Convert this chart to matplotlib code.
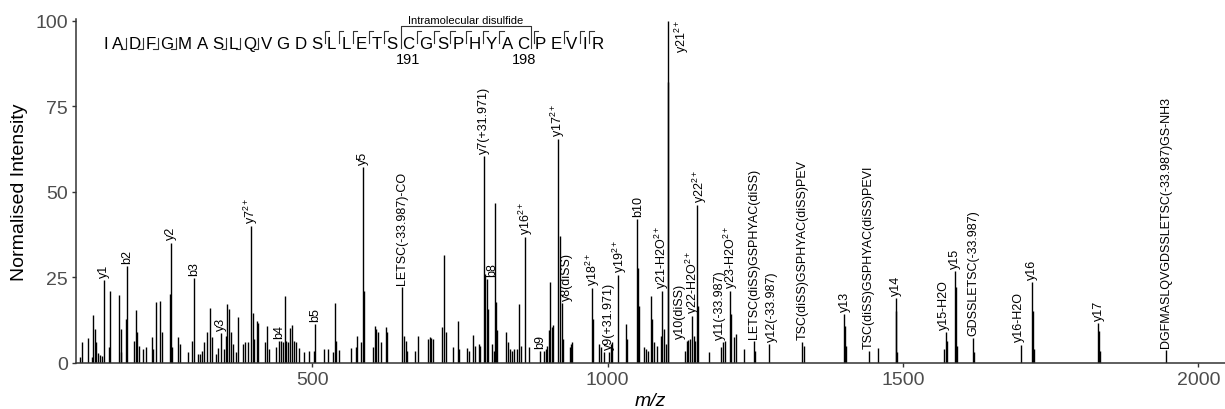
import matplotlib
matplotlib.use('Agg')
import matplotlib.pyplot as plt
from matplotlib import font_manager
from matplotlib.ft2font import FT2Font
from matplotlib.lines import Line2D

plt.rcParams['font.family'] = ['Liberation Sans', 'DejaVu Sans']
plt.rcParams['mathtext.fontset'] = 'custom'
plt.rcParams['mathtext.rm'] = 'Liberation Sans'
plt.rcParams['mathtext.it'] = 'Liberation Sans:italic'

# unannotated peaks (m/z, normalised intensity)
peak_mz = [107.6, 111, 121, 126.8, 129.6, 131.8, 134.7, 138, 140.3, 143.7, 156, 158.3,
           173.5, 175.8, 177, 184.3, 199, 201.7, 204, 206.8, 213.6, 219.2, 228.2, 231,
           235, 242.9, 245.1, 259.2, 263.2, 272.2, 276.7, 289.1, 297, 306, 310.5, 314,
           317.3, 321.2, 326.3, 329.7, 336.5, 341, 350.5, 354, 356.2, 359, 362.4, 365.2,
           371.4, 373.7, 383.2, 386.6, 391.1, 399, 401.9, 405.8, 408, 419.9, 423.3, 426.6,
           439, 446.4, 450.4, 453.2, 454.9, 458.8, 462.7, 466.1, 468.4, 471.8, 476.8, 486.4,
           494.3, 502.2, 519.7, 527, 534.9, 538.3, 540.5, 545.6, 565.9, 573.2, 575.5, 581.7,
           586.8, 602.5, 605.4, 608.2, 611, 616.6, 624, 626.2, 655, 659, 660.6, 674.1,
           678.6, 695.6, 698.4, 701.2, 704, 719.2, 722.1, 726.6, 737.8, 746.3, 748, 762.1,
           765, 772.3, 775.6, 781.8, 784.7, 793.1, 798.2, 805, 807.2, 809.5, 811.2, 812.8,
           828.1, 830.9, 835.4, 838.2, 841, 846.7, 850.6, 852.9, 867.5, 892.9, 895.1, 897.4,
           900.8, 903, 905.9, 908.1, 918.5, 925, 935.7, 938, 940.2, 974.6, 985.9, 988.7,
           994.4, 1005.6, 1007.9, 1031.6, 1033.2, 1051.3, 1053.6, 1062, 1064.8, 1068.8, 1073.3, 1075,
           1078.9, 1083.4, 1090.2, 1095.9, 1098.7, 1101.5, 1131.4, 1136.4, 1139.3, 1145.5, 1148.3, 1153.4,
           1170.8, 1192.3, 1198.4, 1208.6, 1214.2, 1217.1, 1230, 1248.6, 1332, 1402, 1404.2, 1458.3,
           1488.7, 1490.4, 1569.3, 1573.8, 1589.6, 1591.9, 1620.1, 1719.3, 1721, 1831.4, 1834.2]
peak_int = [1.7, 6.0, 7.2, 1.7, 14.0, 9.9, 6.0, 2.9, 2.3, 2.1, 4.6, 21.1,
            19.8, 9.9, 3.1, 13.0, 6.5, 15.4, 9.1, 5.1, 4.1, 4.6, 7.5, 4.1,
            17.9, 18.2, 9.0, 20.1, 4.6, 7.5, 5.5, 3.3, 6.5, 2.6, 2.6, 3.6,
            6.0, 9.0, 16.2, 7.5, 2.6, 4.4, 4.1, 8.0, 17.2, 15.8, 9.0, 5.5,
            3.1, 13.3, 5.5, 6.0, 6.0, 14.6, 7.0, 12.4, 11.7, 6.0, 10.7, 4.1,
            4.6, 6.5, 6.0, 19.5, 6.5, 6.2, 10.1, 11.1, 6.5, 6.2, 4.3, 3.1,
            3.6, 3.6, 4.1, 4.1, 3.3, 17.5, 6.5, 3.9, 4.3, 4.6, 7.8, 6.0,
            21.1, 4.6, 10.7, 9.9, 9.0, 6.2, 10.4, 9.0, 8.0, 6.5, 3.6, 3.6,
            7.8, 7.0, 7.5, 7.2, 7.0, 10.4, 31.5, 9.0, 4.6, 12.4, 4.1, 4.3,
            3.6, 8.2, 5.1, 5.5, 5.1, 26.0, 15.8, 5.5, 3.6, 46.7, 17.7, 9.7,
            9.1, 6.0, 4.1, 3.6, 4.1, 4.1, 17.2, 5.1, 4.6, 3.6, 4.1, 5.1,
            9.7, 23.7, 10.4, 11.1, 37.0, 7.0, 4.6, 5.5, 6.0, 12.8, 5.5, 4.6,
            3.3, 5.5, 6.0, 11.4, 7.0, 27.9, 16.7, 4.6, 4.1, 3.6, 19.5, 12.8,
            6.0, 5.1, 8.0, 9.9, 5.5, 82.0, 3.6, 6.8, 7.0, 8.0, 6.5, 16.7,
            3.3, 4.6, 6.5, 14.3, 7.5, 8.5, 4.1, 3.6, 5.1, 10.9, 5.1, 4.3,
            15.3, 3.1, 4.1, 6.5, 22.1, 5.1, 3.1, 15.3, 4.1, 9.4, 3.6]

# annotated fragment ions
ion_labels = ['y1', 'b2', 'y2', 'b3', 'y3', r'y7$^{2+}$', 'b4', 'b5', 'y5',
              'LETSC(-33.987)-CO', 'y7(+31.971)', 'b8', r'y16$^{2+}$', 'b9', r'y17$^{2+}$',
              'y8(diSS)', r'y18$^{2+}$', 'y9(+31.971)', r'y19$^{2+}$', 'b10',
              r'y21-H2O$^{2+}$', r'y21$^{2+}$', 'y10(diSS)', r'y22-H2O$^{2+}$', r'y22$^{2+}$',
              'y11(-33.987)', r'y23-H2O$^{2+}$', 'LETSC(diSS)GSPHYAC(diSS)', 'y12(-33.987)',
              'TSC(diSS)GSPHYAC(diSS)PEV', 'y13', 'TSC(diSS)GSPHYAC(diSS)PEVI', 'y14',
              'y15-H2O', 'y15', 'GDSSLETSC(-33.987)', 'y16-H2O', 'y16', 'y17',
              'DGFMASLQVGDSSLETSC(-33.987)GS-NH3']
ion_mz = [148, 186, 261, 300.4, 346, 396.8, 443.6, 504.5, 585.6,
          652.2, 791.4, 796, 860.2, 886.1, 916,
          922.8, 973, 1002, 1016.9, 1049.6,
          1091.5, 1102, 1133.6, 1142.6, 1151.1,
          1196, 1206.9, 1247, 1272.3,
          1329.8, 1400.5, 1442.5, 1487.5,
          1572, 1588, 1618.4, 1699, 1717.6, 1829.7,
          1945.3]
ion_int = [24.2, 28.4, 35.2, 24.8, 8.8, 39.9, 6.5, 11.4, 57.2,
           22.1, 60.5, 24.5, 36.9, 3.6, 65.5,
           17.5, 21.8, 3.3, 25.7, 42.0,
           21.1, 100, 6.5, 13.8, 46.1,
           6.0, 21.1, 6.5, 5.5,
           6.0, 14.2, 3.6, 18.9,
           9.0, 27.0, 7.2, 5.4, 23.7, 11.6,
           3.9]
# small sideways nudges of the labels (m/z units)
ion_shift = [0, 0, 0, 0, 0, 0, 0, 0, 0,
             0, 0, 8, 2, 0, 0,
             8, 2, 1, 3, 2,
             0, 23, -12, 1, 5,
             -6, 2, 0, 5,
             0, 1, 0, 1,
             -3, 0, 0, -2, 1, 2,
             -1]

sequence = 'IADFGMASLQVGDSLLETSCGSPHYACPEVIR'
b_sites = [1, 2, 3, 4, 7, 8, 9]
y_sites = [14, 15, 16, 17, 18, 20, 21, 22, 23, 24, 25, 27, 29, 30, 31]
ss_pair = (19, 26)
ss_numbers = ['191', '198']

W, H = 1225, 410
fig = plt.figure(figsize=(W / 100, H / 100), dpi=100)
ax = fig.add_axes([76 / W, 1 - 364 / H, (W - 76) / W, (364 - 20) / H])

ax.vlines(peak_mz, 0, peak_int, color='black', lw=1.0)
ax.vlines(ion_mz, 0, ion_int, color='black', lw=1.0)

for lab, mz, it, dx in zip(ion_labels, ion_mz, ion_int, ion_shift):
    if it >= 99:
        ax.annotate(lab, (mz + dx, it), xytext=(0, 1.5), textcoords='offset points',
                    rotation=90, ha='center', va='top', fontsize=9, annotation_clip=False)
    else:
        ax.annotate(lab, (mz + dx, it), xytext=(0, 2.2), textcoords='offset points',
                    rotation=90, ha='center', va='bottom', fontsize=9)

ax.set_xlim(100, 2045)
ax.set_ylim(0, 100.5)
ax.set_xticks([500, 1000, 1500, 2000])
ax.set_yticks([0, 25, 50, 75, 100])
for s in ['top', 'right']:
    ax.spines[s].set_visible(False)
for s in ['left', 'bottom']:
    ax.spines[s].set_linewidth(1.1)
    ax.spines[s].set_color('#333333')
ax.tick_params(length=3, width=1, color='#333333', labelcolor='#4D4D4D', labelsize=14, pad=3)
ax.set_ylabel('Normalised Intensity', fontsize=14, labelpad=5)
ax.set_xlabel('m/z', fontsize=14, style='italic', labelpad=3)


# peptide sequence with fragment markers, laid out in pixels
def fx(px):
    return px / W


def fy(py):
    return 1 - py / H


def seg(xs, ys):
    fig.add_artist(Line2D([fx(v) for v in xs], [fy(v) for v in ys],
                          transform=fig.transFigure, lw=0.8, color='#333333'))


seq_size = 12.2
fp = font_manager.FontProperties(family='Liberation Sans', size=seq_size)
ft = FT2Font(font_manager.findfont(fp))
ft.set_size(seq_size, 100)
space_w = ft.load_char(ord(' ')).linearHoriAdvance / 65536

cursor = 103.0
centers, lefts, rights = [], [], []
for i, ch in enumerate(sequence):
    w = ft.load_char(ord(ch)).linearHoriAdvance / 65536
    lefts.append(cursor)
    centers.append(cursor + w / 2)
    rights.append(cursor + w)
    cursor += w + space_w

base = 48.7
for ch, cx in zip(sequence, centers):
    fig.text(fx(cx), fy(base), ch, ha='center', va='baseline', fontsize=seq_size)

for i in b_sites:
    gx = (rights[i] + lefts[i + 1]) / 2
    seg([gx - 4.5, gx, gx], [49.8, 49.8, 38.5])
for i in y_sites:
    gx = (rights[i - 1] + lefts[i]) / 2
    if i - 1 == ss_pair[1]:
        gx += 1.5
    seg([gx + 4.5, gx, gx], [32, 32, 44])

bx0 = lefts[ss_pair[0]] - 1.5
bx1 = rights[ss_pair[1]] + 1.5
seg([bx0, bx0, bx1, bx1], [48.5, 27, 27, 48.5])
fig.text(fx((bx0 + bx1) / 2), fy(24.5), 'Intramolecular disulfide', ha='center', va='baseline',
         fontsize=8)
for k, num in zip(ss_pair, ss_numbers):
    fig.text(fx(centers[k]), fy(60), num, ha='center', va='center', fontsize=10.5)

fig.savefig('out.png', dpi=100)
